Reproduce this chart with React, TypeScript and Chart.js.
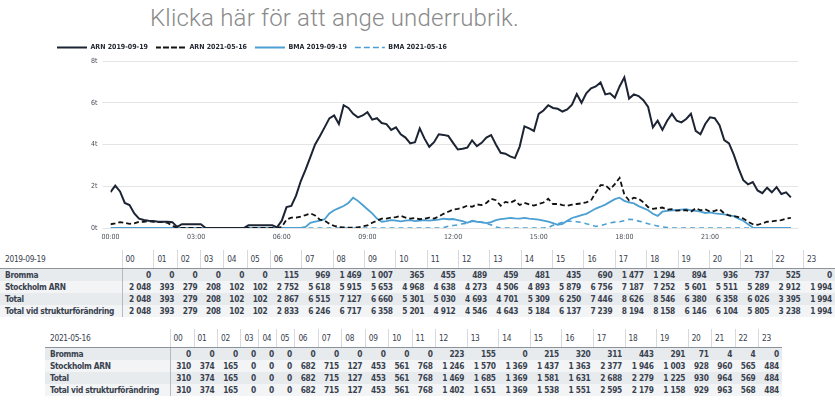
import React, { useEffect, useRef } from 'react';
import { Chart, registerables } from 'chart.js';

Chart.register(...registerables);

// ---------- data ----------
const STEP_MINUTES = 10;
const X_TICK_LABELS = ['00:00', '03:00', '06:00', '09:00', '12:00', '15:00', '18:00', '21:00'];
const X_TICK_MINUTES = [0, 180, 360, 540, 720, 900, 1080, 1260];
const Y_TICK_LABELS = ['0t', '2t', '4t', '6t', '8t'];
const SERIES_NAMES = ['ARN 2019-09-19', 'ARN 2021-05-16', 'BMA 2019-09-19', 'BMA 2021-05-16'];

// 10-minute readings, 00:00 .. 23:50 (6 values per hour per row)
const ARN_2019 = [
  1720, 2030, 1750, 1200, 1100, 700,
  450, 380, 350, 330, 300, 300,
  300, 280, 50, 180, 180, 180,
  180, 180, 0, 0, 0, 0,
  0, 0, 0, 0, 0, 130,
  130, 130, 130, 130, 130, 30,
  350, 1000, 1060, 1550, 2250, 2800,
  3400, 4000, 4400, 4820, 5250, 5390,
  4980, 5880, 5750, 5470, 5300, 5390,
  5550, 5190, 5260, 5030, 4980, 4700,
  4820, 4490, 4330, 4050, 4110, 4770,
  4280, 3890, 4110, 4490, 4460, 4410,
  4080, 3760, 3800, 3850, 4200, 3920,
  4080, 4330, 4450, 4000, 3600, 3560,
  3430, 3350, 3900, 4870, 4770, 4650,
  5470, 5630, 5880, 5750, 5710, 5580,
  5680, 5910, 6420, 6000, 6450, 6690,
  6780, 6970, 6400, 6450, 6240, 6780,
  7220, 6200, 6400, 6320, 6120, 5800,
  4820, 5140, 4700, 5140, 5470, 5140,
  5060, 5220, 5470, 4650, 4490, 4980,
  5300, 5260, 4930, 4210, 4050, 3510,
  2860, 2290, 2090, 2200, 1800, 1670,
  1930, 1710, 1960, 1630, 1710, 1470,
];

const ARN_2021 = [
  180, 220, 280, 250, 200, 220,
  300, 300, 320, 300, 280, 280,
  250, 100, 20, 0, 0, 0,
  0, 0, 0, 0, 0, 0,
  0, 0, 0, 0, 0, 0,
  0, 0, 0, 0, 0, 0,
  50, 400, 500, 500, 550, 620,
  700, 600, 400, 350, 200, 100,
  50, 30, 20, 20, 30, 80,
  120, 250, 350, 450, 450, 500,
  520, 580, 500, 450, 480, 420,
  450, 500, 450, 550, 680, 780,
  880, 920, 980, 1070, 1020, 1130,
  1100, 1200, 1400, 1330, 1070, 1250,
  1200, 1320, 1100, 1200, 1130, 1070,
  1150, 1220, 1400, 1150, 1150, 1100,
  1070, 1120, 1150, 1180, 1230, 1320,
  1700, 2050, 2050, 1850, 2100, 2400,
  1600, 1320, 1450, 1400, 1230, 1000,
  920, 950, 980, 880, 900, 830,
  850, 850, 780, 950, 850, 900,
  780, 820, 900, 700, 600, 570,
  520, 450, 300, 180, 150, 220,
  300, 320, 350, 380, 450, 480,
];

const BMA_2019 = [
  0, 0, 0, 0, 0, 0,
  0, 0, 0, 0, 0, 0,
  0, 0, 0, 0, 0, 0,
  0, 0, 0, 0, 0, 0,
  0, 0, 0, 0, 0, 0,
  0, 0, 0, 0, 0, 0,
  0, 0, 0, 0, 0, 50,
  250, 300, 350, 420, 700, 850,
  950, 1050, 1200, 1450, 1300, 1100,
  900, 700, 450, 300, 330, 380,
  350, 320, 350, 380, 330, 360,
  380, 350, 380, 400, 450, 420,
  430, 380, 330, 250, 350, 300,
  280, 230, 280, 380, 420, 450,
  480, 460, 450, 480, 450, 430,
  400, 350, 300, 230, 150, 200,
  350, 480, 550, 620, 680, 800,
  930, 1020, 1120, 1250, 1380, 1450,
  1300, 1230, 1180, 1050, 950, 850,
  680, 580, 780, 820, 850, 850,
  880, 900, 850, 820, 780, 720,
  750, 700, 680, 650, 600, 570,
  450, 350, 180, 20, 0, 0,
  0, 0, 0, 0, 0, 0,
];

const BMA_2021 = [
  0, 0, 0, 0, 0, 0,
  0, 0, 0, 0, 0, 0,
  0, 0, 0, 0, 0, 0,
  0, 0, 0, 0, 0, 0,
  0, 0, 0, 0, 0, 0,
  0, 0, 0, 0, 0, 0,
  0, 0, 0, 0, 0, 0,
  0, 0, 0, 0, 0, 0,
  0, 0, 0, 0, 0, 0,
  0, 0, 0, 0, 0, 0,
  0, 0, 0, 0, 0, 0,
  0, 0, 0, 0, 20, 80,
  120, 150, 200, 230, 320, 300,
  270, 220, 150, 50, 0, 0,
  0, 0, 0, 0, 0, 0,
  0, 0, 20, 130, 200, 270,
  320, 320, 300, 270, 200, 150,
  70, 120, 180, 250, 280, 300,
  350, 420, 400, 330, 280, 200,
  150, 100, 50, 20, 0, 0,
  0, 0, 0, 0, 0, 0,
  0, 0, 0, 0, 0, 0,
  0, 0, 0, 0, 0, 0,
  0, 0, 0, 0, 0, 0,
];

// ---------- tables ----------
const HOURS = ['00', '01', '02', '03', '04', '05', '06', '07', '08', '09', '10', '11',
  '12', '13', '14', '15', '16', '17', '18', '19', '20', '21', '22', '23'];
const ROW_LABELS = ['Bromma', 'Stockholm ARN', 'Total', 'Total vid strukturförändring'];

const DATE_2019 = '2019-09-19';
const BROMMA_2019 = [0, 0, 0, 0, 0, 0, 115, 969, 1469, 1007, 365, 455, 489, 459, 481, 435, 690, 1477, 1294, 894, 936, 737, 525, 0];
const ARN_TBL_2019 = [2048, 393, 279, 208, 102, 102, 2752, 5618, 5915, 5653, 4968, 4638, 4273, 4506, 4893, 5879, 6756, 7187, 7252, 5601, 5511, 5289, 2912, 1994];
const TOTAL_2019 = [2048, 393, 279, 208, 102, 102, 2867, 6515, 7127, 6660, 5301, 5030, 4693, 4701, 5309, 6250, 7446, 8626, 8546, 6380, 6358, 6026, 3395, 1994];
const STRUCT_2019 = [2048, 393, 279, 208, 102, 102, 2833, 6246, 6717, 6358, 5201, 4912, 4546, 4643, 5184, 6137, 7239, 8194, 8158, 6146, 6104, 5805, 3238, 1994];

const DATE_2021 = '2021-05-16';
const BROMMA_2021 = [0, 0, 0, 0, 0, 0, 0, 0, 0, 0, 0, 0, 223, 155, 0, 215, 320, 311, 443, 291, 71, 4, 4, 0];
const ARN_TBL_2021 = [310, 374, 165, 0, 0, 0, 682, 715, 127, 453, 561, 768, 1246, 1570, 1369, 1437, 1363, 2377, 1946, 1003, 928, 960, 565, 484];
const TOTAL_2021 = [310, 374, 165, 0, 0, 0, 682, 715, 127, 453, 561, 768, 1469, 1685, 1369, 1581, 1631, 2688, 2279, 1225, 930, 964, 569, 484];
const STRUCT_2021 = [310, 374, 165, 0, 0, 0, 682, 715, 127, 453, 561, 768, 1402, 1651, 1369, 1538, 1551, 2595, 2179, 1158, 929, 963, 568, 484];

// ---------- styling ----------
const COND_FONT = "'DejaVu Sans Condensed', 'Liberation Sans Narrow', Roboto, sans-serif";
const DARK = '#1c2433';
const BLUE = '#4b9fd3';

const fmt = (n: number) =>
  n >= 1000 ? `${Math.floor(n / 1000)}\u00A0${String(n % 1000).padStart(3, '0')}` : String(n);

const toPoints = (values: number[]) => values.map((v, i) => ({ x: i * STEP_MINUTES, y: v }));

function DataTable(props: {
  left: number; top: number; width: number; labelWidth: number; date: string; rows: number[][];
}) {
  const { left, top, width, labelWidth, date, rows } = props;
  return (
    <table
      style={{
        position: 'absolute', left, top, width, borderCollapse: 'collapse', tableLayout: 'auto',
        fontFamily: COND_FONT, fontSize: 8.3, letterSpacing: '-0.3px', color: '#39424e', lineHeight: '12px',
      }}
    >
      <thead>
        <tr style={{ height: 18 }}>
          <th style={{ width: labelWidth, minWidth: labelWidth, maxWidth: labelWidth, boxSizing: 'border-box', textAlign: 'left', fontWeight: 400, padding: '0 5px', whiteSpace: 'nowrap', borderBottom: '1px solid #8d939b' }}>{date}</th>
          {HOURS.map((h) => (
            <th key={h} style={{ textAlign: 'left', fontWeight: 400, padding: '0 3px', borderLeft: '1px solid #d6d9dd', borderBottom: '1px solid #8d939b' }}>{h}</th>
          ))}
        </tr>
      </thead>
      <tbody>
        {rows.map((vals, i) => (
          <tr key={i} style={{ height: 12, background: i % 2 === 0 ? '#e8ebee' : '#f3f4f6' }}>
            <td style={{ fontWeight: 700, padding: '0 4px 0 5px', whiteSpace: 'nowrap', borderRight: '1px solid #b5bac1', overflow: 'hidden' }}>{ROW_LABELS[i]}</td>
            {vals.map((v, j) => (
              <td key={j} style={{ textAlign: 'right', fontWeight: 700, padding: '0 3px', whiteSpace: 'nowrap' }}>{fmt(v)}</td>
            ))}
          </tr>
        ))}
      </tbody>
    </table>
  );
}

export default function App() {
  const ref = useRef<HTMLCanvasElement>(null);

  useEffect(() => {
    if (!ref.current) return;
    const chart = new Chart(ref.current, {
      type: 'line',
      data: {
        datasets: [
          { label: SERIES_NAMES[0], data: toPoints(ARN_2019), borderColor: DARK, backgroundColor: 'transparent', borderWidth: 2 },
          { label: SERIES_NAMES[1], data: toPoints(ARN_2021), borderColor: '#111111', backgroundColor: 'transparent', borderWidth: 1.8, borderDash: [5, 3] },
          { label: SERIES_NAMES[2], data: toPoints(BMA_2019), borderColor: BLUE, backgroundColor: 'transparent', borderWidth: 1.8 },
          { label: SERIES_NAMES[3], data: toPoints(BMA_2021), borderColor: BLUE, backgroundColor: 'transparent', borderWidth: 1.6, borderDash: [5, 4] },
        ],
      },
      options: {
        animation: false,
        responsive: false,
        elements: { point: { radius: 0, hoverRadius: 0 }, line: { tension: 0 } },
        layout: { padding: { left: 14, right: 2, top: 3, bottom: 0 } },
        plugins: {
          tooltip: { enabled: false },
          legend: {
            position: 'top',
            align: 'start',
            labels: {
              boxWidth: 30,
              boxHeight: 0,
              padding: 8,
              color: '#222831',
              font: { family: COND_FONT, size: 7, weight: 'bold' },
            },
          },
        },
        scales: {
          x: {
            type: 'linear',
            min: 0,
            max: 1445,
            grid: { display: false, drawTicks: false, tickLength: 0 },
            border: { display: false },
            afterBuildTicks: (scale: any) => {
              scale.ticks = X_TICK_MINUTES.map((m) => ({ value: m }));
            },
            afterFit: (scale: any) => { scale.height = 17; },
            ticks: {
              autoSkip: false,
              maxRotation: 0,
              padding: 5,
              color: '#4a4f57',
              font: { family: COND_FONT, size: 7 },
              callback: (_v: any, index: number) => X_TICK_LABELS[index] ?? '',
            },
          },
          y: {
            min: 0,
            max: 8000,
            afterFit: (scale: any) => { scale.width = 61.5; },
            grid: { color: '#e4e4e4', lineWidth: 1, tickLength: 8, drawTicks: true },
            border: { display: false },
            ticks: {
              stepSize: 2000,
              padding: 5,
              color: '#4a4f57',
              font: { family: COND_FONT, size: 7 },
              callback: (v: any) => Y_TICK_LABELS[Math.round(Number(v) / 2000)] ?? '',
            },
          },
        },
      },
    });
    return () => chart.destroy();
  }, []);

  return (
    <div style={{ position: 'fixed', left: 0, top: 0, width: 835, height: 404, background: '#ffffff', overflow: 'hidden' }}>
      <div
        style={{
          position: 'absolute', left: 150, top: 3, fontFamily: 'Roboto, sans-serif', fontWeight: 300,
          fontSize: 24, letterSpacing: '0.2px', lineHeight: '30px', color: '#8a8a8a', whiteSpace: 'nowrap',
        }}
      >
        Klicka här för att ange underrubrik.
      </div>
      <div style={{ position: 'absolute', left: 35, top: 33, width: 765, height: 212 }}>
        <canvas ref={ref} width={765} height={212} style={{ width: 765, height: 212 }} />
      </div>
      <DataTable left={0} top={250} width={835} labelWidth={122} date={DATE_2019} rows={[BROMMA_2019, ARN_TBL_2019, TOTAL_2019, STRUCT_2019]} />
      <DataTable left={45} top={329} width={737} labelWidth={125} date={DATE_2021} rows={[BROMMA_2021, ARN_TBL_2021, TOTAL_2021, STRUCT_2021]} />
    </div>
  );
}
